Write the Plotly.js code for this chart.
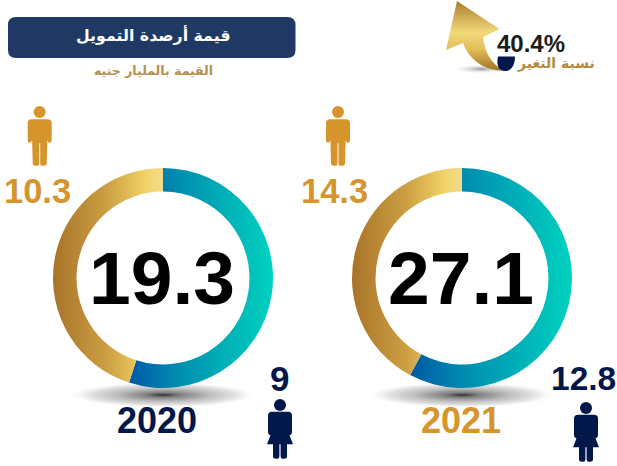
<!DOCTYPE html>
<html><head><meta charset="utf-8">
<script src="https://cdn.plot.ly/plotly-3.0.1.min.js"></script>
<style>html,body{margin:0;padding:0;background:#fff}#c{width:617px;height:466px}</style>
</head><body><div id="c"></div>
<script>
// Data
const years = ['2020', '2021'];
const totals = ['19.3', '27.1'];
const menValues = ['10.3', '14.3'];
const womenValues = ['9', '12.8'];
const ringLabels = ['teal', 'gold'];
const ring2020 = [55, 45];
const ring2021 = [57.8, 42.2];
const changeValue = '40.4%';
const changeLabel = 'نسبة التغير';
const titleText = 'قيمة أرصدة التمويل';
const subtitleText = 'القيمة بالمليار جنيه';

const W = 617, H = 466;
const NAVY = '#02174a', GOLD = '#d6952c';
const NUM = '"Liberation Sans", Arial, sans-serif';
const AR = '"DejaVu Sans", sans-serif';

function ringTrace(vals, cx, cy, r) {
  return {type: 'pie', values: vals, labels: ringLabels, sort: false, direction: 'clockwise', rotation: 0,
    hole: 0.786, textinfo: 'none', hoverinfo: 'none', showlegend: false,
    marker: {colors: ['#00a0b5', '#d6a94a'], line: {width: 0}},
    domain: {x: [(cx - r) / W, (cx + r) / W], y: [(H - cy - r) / H, (H - cy + r) / H]}};
}
function txt(text, x, y, size, color, font, bold) {
  return {text: bold === false ? text : '<b>' + text + '</b>', x, y, xref: 'x', yref: 'y', showarrow: false,
    xanchor: 'center', yanchor: 'middle', font: {size, color, family: font}};
}
function headShape(cx, cy, color) {
  return {type: 'circle', xref: 'x', yref: 'y', x0: cx - 6, x1: cx + 6, y0: cy - 6, y1: cy + 6,
    fillcolor: color, line: {width: 0}, layer: 'above'};
}
function pathShape(d, color) {
  return {type: 'path', xref: 'x', yref: 'y', path: d, fillcolor: color, line: {width: 0}, layer: 'above'};
}
function manPath(c, t) { // c: centre x, t: shoulder top y
  const p = (dx, dy) => (c + dx) + ',' + (t + dy);
  return 'M' + p(-8, 0) + ' L' + p(8, 0) + ' Q' + p(12, 0) + ' ' + p(12, 4) +
    ' L' + p(12, 21) + ' Q' + p(12, 23.5) + ' ' + p(10, 23.5) + ' Q' + p(8.6, 23.5) + ' ' + p(7.6, 21) + ' L' + p(7, 44) +
    ' Q' + p(7, 46.5) + ' ' + p(4, 46.5) + ' L' + p(2, 46.5) + ' Q' + p(0.5, 46.5) + ' ' + p(0.5, 44) +
    ' L' + p(0.5, 24) + ' L' + p(-0.5, 24) + ' L' + p(-0.5, 44) + ' Q' + p(-0.5, 46.5) + ' ' + p(-2, 46.5) +
    ' L' + p(-4, 46.5) + ' Q' + p(-7, 46.5) + ' ' + p(-7, 44) + ' L' + p(-7.6, 21) + ' Q' + p(-8.6, 23.5) + ' ' + p(-10, 23.5) +
    ' Q' + p(-12, 23.5) + ' ' + p(-12, 21) + ' L' + p(-12, 4) + ' Q' + p(-12, 0) + ' ' + p(-8, 0) + ' Z';
}
function womanPath(c, t) {
  const p = (dx, dy) => (c + dx) + ',' + (t + dy);
  return 'M' + p(-8, 0) + ' L' + p(8, 0) + ' Q' + p(12, 0) + ' ' + p(12, 4) +
    ' L' + p(12, 20) + ' Q' + p(12, 23) + ' ' + p(9.5, 23.5) + ' L' + p(13, 32.5) + ' L' + p(7, 32.5) +
    ' L' + p(7, 44.5) + ' Q' + p(7, 47) + ' ' + p(4, 47) + ' L' + p(2.5, 47) + ' Q' + p(0.6, 47) + ' ' + p(0.6, 44.5) +
    ' L' + p(0.6, 32.5) + ' L' + p(-0.6, 32.5) + ' L' + p(-0.6, 44.5) + ' Q' + p(-0.6, 47) + ' ' + p(-2.5, 47) +
    ' L' + p(-4, 47) + ' Q' + p(-7, 47) + ' ' + p(-7, 44.5) + ' L' + p(-7, 32.5) + ' L' + p(-13, 32.5) +
    ' L' + p(-9.5, 23.5) + ' Q' + p(-12, 23) + ' ' + p(-12, 20) + ' L' + p(-12, 4) + ' Q' + p(-12, 0) + ' ' + p(-8, 0) + ' Z';
}
function svgUri(s) { return 'data:image/svg+xml;charset=utf-8,' + encodeURIComponent(s); }
const shadowSvg = svgUri('<svg xmlns="http://www.w3.org/2000/svg" width="200" height="26" viewBox="0 0 200 26"><defs><radialGradient id="s"><stop offset="0" stop-color="#333"/><stop offset=".18" stop-color="#808080"/><stop offset=".5" stop-color="#bebebe"/><stop offset=".8" stop-color="#e8e8e8"/><stop offset="1" stop-color="#fff" stop-opacity="0"/></radialGradient></defs><ellipse cx="100" cy="13" rx="100" ry="13" fill="url(#s)"/></svg>');
const arrowSvg = svgUri('<svg xmlns="http://www.w3.org/2000/svg" width="90" height="80" viewBox="440 0 90 80"><defs>' +
  '<linearGradient id="g" x1="0" y1="0" x2="0" y2="1"><stop offset="0" stop-color="#a97c2c"/><stop offset=".45" stop-color="#f1d97a"/><stop offset=".7" stop-color="#e2bd58"/><stop offset="1" stop-color="#9f7326"/></linearGradient>' +
  '<radialGradient id="s"><stop offset="0" stop-color="#999"/><stop offset="1" stop-color="#fff" stop-opacity="0"/></radialGradient></defs>' +
  '<ellipse cx="481" cy="69" rx="30" ry="5" fill="url(#s)"/>' +
  '<path d="M457,1 L499.5,29 L483,37 C484,47 488,59 498,67 L504,70.5 C485,71 469,60 463,43 L446,50 Z" fill="url(#g)"/>' +
  '<path d="M498,56.5 L515,56.5 C515,64 512,71 505,71 C499,71 496,66 498,56.5 Z" fill="#02174a"/></svg>');
function img(src, x, y, w, h) {
  return {source: src, xref: 'x', yref: 'y', x, y, sizex: w, sizey: h, sizing: 'stretch', xanchor: 'left', yanchor: 'top', layer: 'below'};
}

const traces = [
  {type: 'scatter', x: [null], y: [null], hoverinfo: 'skip', showlegend: false},
  ringTrace(ring2020, 163, 278, 110),
  ringTrace(ring2021, 462, 278, 110)
];
const layout = {
  width: W, height: H, margin: {l: 0, r: 0, t: 0, b: 0}, paper_bgcolor: '#fff', plot_bgcolor: '#fff', showlegend: false,
  xaxis: {range: [0, W], visible: false, fixedrange: true},
  yaxis: {range: [H, 0], visible: false, fixedrange: true},
  images: [img(shadowSvg, 68, 382, 190, 26), img(shadowSvg, 367, 382, 190, 26), img(arrowSvg, 440, 0, 90, 80)],
  shapes: [
    pathShape('M16,17 L287,17 Q295.5,17 295.5,25 L295.5,50 Q295.5,58 287,58 L16,58 Q8,58 8,50 L8,25 Q8,17 16,17 Z', '#1f3864'),
    headShape(39.7, 112, GOLD), pathShape(manPath(39.7, 119.3), GOLD),
    headShape(338, 112, GOLD), pathShape(manPath(338, 119.3), GOLD),
    headShape(280, 405, NAVY), pathShape(womanPath(280, 411.7), NAVY),
    headShape(586, 408, NAVY), pathShape(womanPath(586, 414.7), NAVY)
  ],
  annotations: [
    txt(titleText, 153.5, 35, 15.8, '#ffffff', AR),
    txt(subtitleText, 153, 70, 12.5, '#b5904e', AR),
    txt(changeValue, 530.5, 43, 24, '#1c1c1c', NUM),
    txt(changeLabel, 556, 63, 14, '#b58a3c', AR),
    txt(totals[0], 162, 278, 75, '#000000', NUM),
    txt(totals[1], 461, 278, 75, '#000000', NUM),
    txt(menValues[0], 37.5, 191, 34.5, GOLD, NUM),
    txt(menValues[1], 334.5, 191, 34.5, GOLD, NUM),
    txt(womenValues[0], 279, 378, 35, NAVY, NUM),
    txt(womenValues[1], 583, 378, 33.5, NAVY, NUM),
    txt(years[0], 156.7, 420, 36, NAVY, NUM),
    txt(years[1], 461, 420, 36, GOLD, NUM)
  ]
};
Plotly.newPlot('c', traces, layout, {displayModeBar: false, staticPlot: true}).then(gd => {
  const svg = gd.querySelector('svg.main-svg');
  const NS = 'http://www.w3.org/2000/svg';
  const defs = svg.querySelector('defs') || svg.insertBefore(document.createElementNS(NS, 'defs'), svg.firstChild);
  const mk = (id, stops) => {
    const g = document.createElementNS(NS, 'linearGradient');
    g.setAttribute('id', id);
    stops.forEach(([o, c]) => {
      const s = document.createElementNS(NS, 'stop');
      s.setAttribute('offset', o); s.setAttribute('stop-color', c); g.appendChild(s);
    });
    defs.appendChild(g);
  };
  mk('tealGrad', [[0, '#0058a6'], [0.35, '#008fb0'], [1, '#00d2bf']]);
  mk('goldGrad', [[0, '#a87328'], [0.5, '#cda044'], [0.85, '#f2d467'], [1, '#efdc90']]);
  gd.querySelectorAll('.pielayer .trace').forEach(t => {
    const paths = t.querySelectorAll('.slice path.surface');
    if (paths[0]) paths[0].style.fill = 'url(#tealGrad)';
    if (paths[1]) paths[1].style.fill = 'url(#goldGrad)';
  });
});
</script></body></html>
